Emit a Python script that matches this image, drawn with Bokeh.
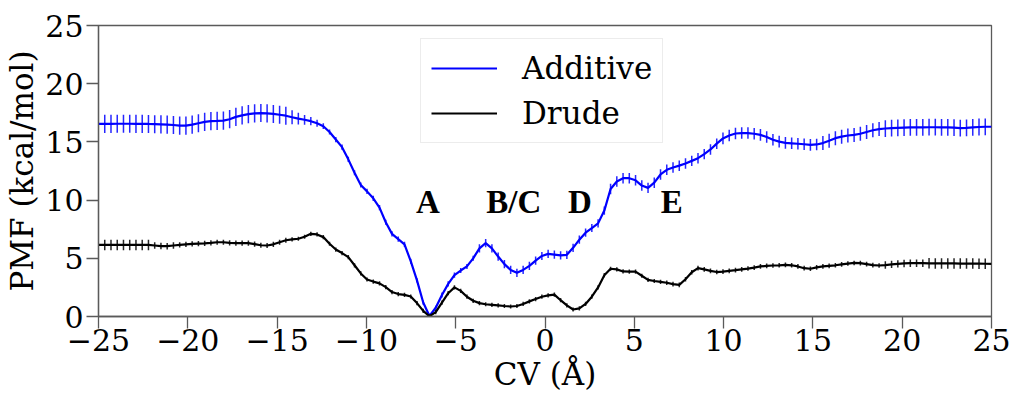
import numpy as np
from bokeh.plotting import figure
from bokeh.models import Range1d, FixedTicker, Legend, LegendItem
from bokeh.embed import file_html
from bokeh.resources import INLINE
from bokeh.core.properties import value

# ---- data ----
cv = np.linspace(-25, 25, 144)

additive = [
    16.55, 16.55, 16.55, 16.56, 16.56, 16.56, 16.55, 16.55, 16.54, 16.52, 16.50, 16.48,
    16.45, 16.40, 16.40, 16.48, 16.60, 16.72, 16.78, 16.80,
    16.83, 16.95, 17.15, 17.28, 17.38, 17.45, 17.48, 17.45, 17.40, 17.33,
    17.25, 17.12, 17.00, 16.90, 16.78, 16.60, 16.35, 15.85, 15.20, 14.55,
    13.50, 12.35, 11.30, 10.75, 10.15, 9.35, 8.10, 7.10, 6.65, 6.20,
    4.75, 3.10, 1.20, 0.05, 0.75, 1.85, 2.80, 3.55, 3.95, 4.30,
    5.00, 5.85, 6.30, 5.85, 5.15, 4.50, 4.00, 3.75, 4.00, 4.35,
    4.80, 5.20, 5.38, 5.32, 5.25, 5.30, 5.90, 6.60, 7.20, 7.60,
    8.00, 9.10, 10.95, 11.60, 11.88, 11.88, 11.70, 11.25, 11.05, 11.50,
    12.20, 12.60, 12.80, 12.96, 13.15, 13.37, 13.60, 13.95, 14.35, 14.85,
    15.30, 15.55, 15.72, 15.76, 15.76, 15.70, 15.60, 15.42, 15.18, 15.02,
    14.92, 14.88, 14.84, 14.80, 14.74, 14.78, 14.90, 15.10, 15.32, 15.45,
    15.55, 15.60, 15.70, 15.85, 16.00, 16.10, 16.15, 16.18, 16.20, 16.22,
    16.24, 16.25, 16.25, 16.26, 16.26, 16.25, 16.25, 16.22, 16.18, 16.20,
    16.25, 16.28, 16.30, 16.30,
]

additive_err = [
    0.78, 0.78, 0.78, 0.78, 0.78, 0.78, 0.78, 0.78, 0.78, 0.78,
    0.78, 0.78, 0.78, 0.78, 0.78, 0.78, 0.78, 0.78, 0.78, 0.78,
    0.78, 0.78, 0.78, 0.78, 0.78, 0.78, 0.78, 0.78, 0.78, 0.78,
    0.78, 0.60, 0.50, 0.42, 0.35, 0.30, 0.25, 0.22, 0.22, 0.22,
    0.22, 0.22, 0.22, 0.22, 0.22, 0.22, 0.22, 0.22, 0.22, 0.22,
    0.22, 0.18, 0.18, 0.18, 0.18, 0.22, 0.22, 0.22, 0.22, 0.22,
    0.22, 0.35, 0.35, 0.35, 0.35, 0.35, 0.35, 0.35, 0.35, 0.35,
    0.35, 0.35, 0.35, 0.35, 0.35, 0.35, 0.35, 0.35, 0.35, 0.35,
    0.35, 0.35, 0.45, 0.45, 0.45, 0.45, 0.45, 0.45, 0.45, 0.45,
    0.45, 0.45, 0.45, 0.45, 0.45, 0.45, 0.45, 0.45, 0.45, 0.45,
    0.50, 0.50, 0.50, 0.50, 0.50, 0.50, 0.50, 0.50, 0.50, 0.50,
    0.50, 0.50, 0.50, 0.50, 0.50, 0.50, 0.60, 0.60, 0.60, 0.60,
    0.60, 0.60, 0.60, 0.60, 0.60, 0.60, 0.72, 0.72, 0.72, 0.72,
    0.72, 0.72, 0.72, 0.72, 0.72, 0.72, 0.72, 0.72, 0.72, 0.72,
    0.72, 0.72, 0.72, 0.72,
]

drude = [
    6.15, 6.15, 6.15, 6.15, 6.15, 6.15, 6.15, 6.15, 6.15, 6.10, 6.05, 6.04,
    6.10, 6.15, 6.20, 6.24, 6.26, 6.28, 6.32, 6.38,
    6.38, 6.33, 6.30, 6.30, 6.30, 6.22, 6.12, 6.10, 6.20, 6.38,
    6.55, 6.62, 6.68, 6.85, 7.10, 7.05, 6.82, 6.25, 5.75, 5.45,
    5.10, 4.40, 3.70, 3.18, 3.00, 2.85, 2.52, 2.10, 1.93, 1.86,
    1.72, 1.15, 0.48, 0.02, 0.37, 1.20, 2.00, 2.50, 2.20, 1.70,
    1.35, 1.15, 1.05, 1.00, 0.95, 0.90, 0.86, 0.90, 1.08, 1.30,
    1.50, 1.70, 1.82, 1.88, 1.40, 0.95, 0.60, 0.70, 1.08, 1.70,
    2.50, 3.55, 4.10, 4.05, 3.87, 3.85, 3.85, 3.50, 3.15, 3.05,
    2.98, 2.90, 2.78, 2.72, 3.20, 3.80, 4.15, 4.05, 3.92, 3.82,
    3.85, 3.92, 3.98, 4.05, 4.12, 4.20, 4.30, 4.35, 4.38, 4.40,
    4.43, 4.40, 4.30, 4.15, 4.10, 4.22, 4.30, 4.35, 4.40, 4.48,
    4.55, 4.60, 4.58, 4.50, 4.42, 4.38, 4.42, 4.48, 4.52, 4.56,
    4.58, 4.58, 4.58, 4.57, 4.56, 4.56, 4.56, 4.56, 4.55, 4.55,
    4.55, 4.54, 4.53, 4.52,
]

drude_err = [
    0.45, 0.45, 0.45, 0.45, 0.45, 0.45, 0.45, 0.45, 0.45, 0.28,
    0.28, 0.28, 0.28, 0.22, 0.22, 0.22, 0.22, 0.22, 0.22, 0.22,
    0.22, 0.22, 0.22, 0.22, 0.22, 0.22, 0.22, 0.22, 0.22, 0.22,
    0.22, 0.18, 0.18, 0.18, 0.18, 0.18, 0.18, 0.18, 0.18, 0.18,
    0.18, 0.18, 0.18, 0.18, 0.18, 0.18, 0.18, 0.18, 0.18, 0.18,
    0.18, 0.18, 0.18, 0.18, 0.18, 0.18, 0.18, 0.18, 0.18, 0.18,
    0.18, 0.18, 0.18, 0.18, 0.18, 0.18, 0.18, 0.18, 0.18, 0.18,
    0.18, 0.18, 0.18, 0.18, 0.18, 0.18, 0.18, 0.18, 0.18, 0.18,
    0.18, 0.18, 0.18, 0.18, 0.18, 0.18, 0.18, 0.18, 0.18, 0.18,
    0.18, 0.20, 0.20, 0.20, 0.20, 0.20, 0.20, 0.20, 0.20, 0.20,
    0.20, 0.20, 0.20, 0.20, 0.20, 0.20, 0.20, 0.20, 0.20, 0.20,
    0.20, 0.20, 0.20, 0.20, 0.20, 0.20, 0.20, 0.20, 0.20, 0.20,
    0.20, 0.20, 0.20, 0.20, 0.20, 0.20, 0.32, 0.32, 0.32, 0.32,
    0.32, 0.32, 0.32, 0.45, 0.45, 0.45, 0.45, 0.45, 0.45, 0.45,
    0.45, 0.45, 0.45, 0.45,
]

state_labels = ["A", "B/C", "D", "E"]
state_x = [-6.55, -1.75, 1.95, 7.1]
state_y = [9.8, 9.8, 9.8, 9.8]

x_ticks = [-25, -20, -15, -10, -5, 0, 5, 10, 15, 20, 25]
y_ticks = [0, 5, 10, 15, 20, 25]

# ---- figure ----
p = figure(width=1013, height=394, x_range=Range1d(-25, 25), y_range=Range1d(0, 25),
           output_backend="svg", toolbar_location=None,
           min_border_left=98, min_border_right=22, min_border_top=25, min_border_bottom=78)
p.grid.visible = False
p.outline_line_color = "#5a5a5a"
p.outline_line_width = 1.3
p.background_fill_color = "white"
p.border_fill_color = "white"

AX = "#5a5a5a"
for ax in (p.xaxis[0], p.yaxis[0]):
    ax.axis_line_color = AX
    ax.axis_line_width = 1.3
    ax.major_tick_line_color = AX
    ax.major_tick_line_width = 1.3
    ax.major_tick_out = 12
    ax.major_tick_in = 0
    ax.minor_tick_out = 0
    ax.minor_tick_in = 0
    ax.major_label_text_font = "DejaVu Serif"
    ax.major_label_text_font_size = "30px"
    ax.major_label_text_color = "black"
    ax.axis_label_text_font = "DejaVu Serif"
    ax.axis_label_text_font_size = "31px"
    ax.axis_label_text_font_style = "normal"
    ax.axis_label_text_color = "black"
    ax.axis_label_standoff = 2

p.xaxis[0].major_label_standoff = 0
p.yaxis[0].major_label_standoff = 3
p.xaxis[0].ticker = FixedTicker(ticks=x_ticks)
p.yaxis[0].ticker = FixedTicker(ticks=y_ticks)
p.xaxis[0].major_label_overrides = {t: (str(t) if t >= 0 else "\u2212" + str(-t)) for t in x_ticks}
p.yaxis[0].major_label_overrides = {t: str(t) for t in y_ticks}
p.xaxis[0].axis_label = "CV (\u00c5)"
p.yaxis[0].axis_label = "PMF (kcal/mol)"

a = np.array(additive)
ae = np.array(additive_err)
d = np.array(drude)
de = np.array(drude_err)
sl = slice(1, -1)

r_add = p.line(cv, a, line_color="blue", line_width=2.2)
p.segment(x0=cv[sl], y0=(a - ae)[sl], x1=cv[sl], y1=(a + ae)[sl],
          line_color="blue", line_width=1.5, line_alpha=0.85)
r_dru = p.line(cv, d, line_color="black", line_width=2.2)
p.segment(x0=cv[sl], y0=(d - de)[sl], x1=cv[sl], y1=(d + de)[sl],
          line_color="black", line_width=1.5, line_alpha=0.85)

p.text(x=state_x, y=state_y, text=state_labels, text_font=value("Liberation Serif"),
       text_font_style="bold", text_font_size="33px", text_align="center",
       text_baseline="alphabetic", text_color="black")

legend = Legend(items=[LegendItem(label="Additive", renderers=[r_add]),
                       LegendItem(label="Drude", renderers=[r_dru])],
                location=(322, 173))
legend.label_text_font = "DejaVu Serif"
legend.label_text_font_size = "31px"
legend.label_text_color = "black"
legend.glyph_width = 66
legend.glyph_height = 38
legend.label_height = 38
legend.label_standoff = 25
legend.spacing = 7
legend.padding = 10
legend.margin = 0
legend.border_line_color = "#d9d9d9"
legend.border_line_width = 1
legend.background_fill_alpha = 0.8
p.add_layout(legend)

open("out.html", "w").write(file_html(p, INLINE))
